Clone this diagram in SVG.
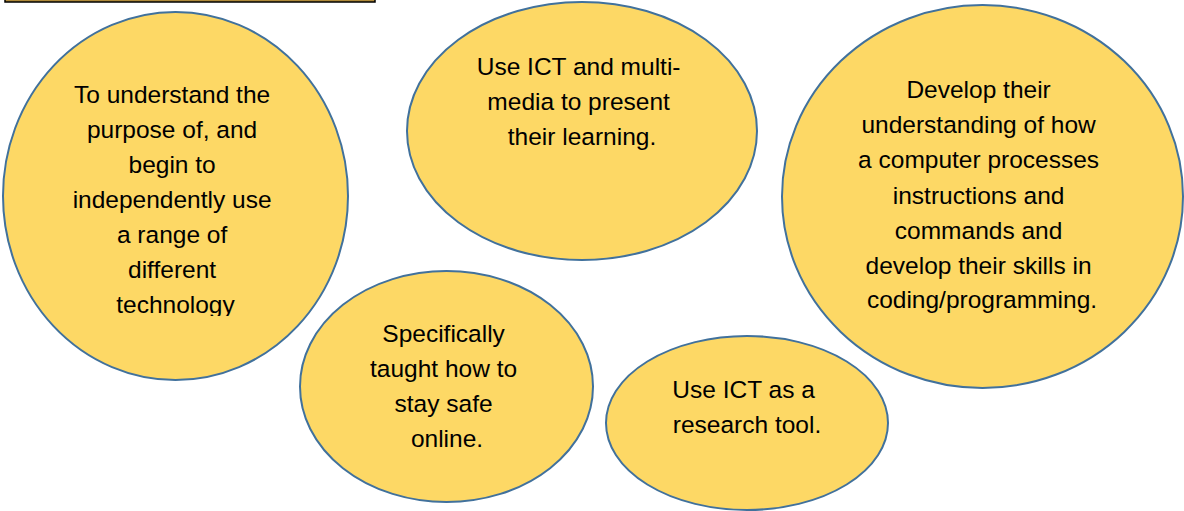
<svg xmlns="http://www.w3.org/2000/svg" width="1184" height="511" viewBox="0 0 1184 511">
<style>
.bubble{fill:#FDD865;stroke:#41719C;stroke-width:2}
.lbl{font-family:"Liberation Sans",Arial,sans-serif;font-size:24.5px;fill:#000;text-anchor:middle}
</style>
<defs>
<clipPath id="clip1"><rect x="0" y="0" width="360" height="316"/></clipPath>
</defs>
<rect id="header-bar" x="5" y="-6" width="370" height="8" fill="#B08A3A" stroke="#000" stroke-width="1.5"/>
<g id="connectors"></g>
<g id="node-technology">
<ellipse class="bubble" cx="175.5" cy="196" rx="172.5" ry="184"/>
<text class="lbl" clip-path="url(#clip1)">
<tspan x="175.5" y="103">To understand the</tspan>
<tspan x="175.5" y="138">purpose of, and</tspan>
<tspan x="175.5" y="173">begin to</tspan>
<tspan x="175.5" y="208">independently use</tspan>
<tspan x="175.5" y="243">a range of</tspan>
<tspan x="175.5" y="278">different</tspan>
<tspan x="175.5" y="313">technology</tspan>
</text>
</g>
<g id="node-multimedia">
<ellipse class="bubble" cx="582" cy="131" rx="175" ry="129"/>
<text class="lbl">
<tspan x="582" y="75">Use ICT and multi-</tspan>
<tspan x="582" y="110">media to present</tspan>
<tspan x="582" y="145">their learning.</tspan>
</text>
</g>
<g id="node-coding">
<ellipse class="bubble" cx="982.5" cy="196.5" rx="200.5" ry="191.5"/>
<text class="lbl">
<tspan x="982" y="98">Develop their</tspan>
<tspan x="982" y="133">understanding of how</tspan>
<tspan x="982" y="168">a computer processes</tspan>
<tspan x="982" y="204">instructions and</tspan>
<tspan x="982" y="239">commands and</tspan>
<tspan x="982" y="274">develop their skills in</tspan>
<tspan x="982" y="308">coding/programming.</tspan>
</text>
</g>
<g id="node-safe">
<ellipse class="bubble" cx="446.5" cy="386.5" rx="146.5" ry="115.5"/>
<text class="lbl">
<tspan x="447" y="342">Specifically</tspan>
<tspan x="447" y="377">taught how to</tspan>
<tspan x="447" y="412">stay safe</tspan>
<tspan x="447" y="447">online.</tspan>
</text>
</g>
<g id="node-research">
<ellipse class="bubble" cx="747" cy="423" rx="141" ry="87"/>
<text class="lbl">
<tspan x="747" y="398">Use ICT as a</tspan>
<tspan x="747" y="433">research tool.</tspan>
</text>
</g>
</svg>
